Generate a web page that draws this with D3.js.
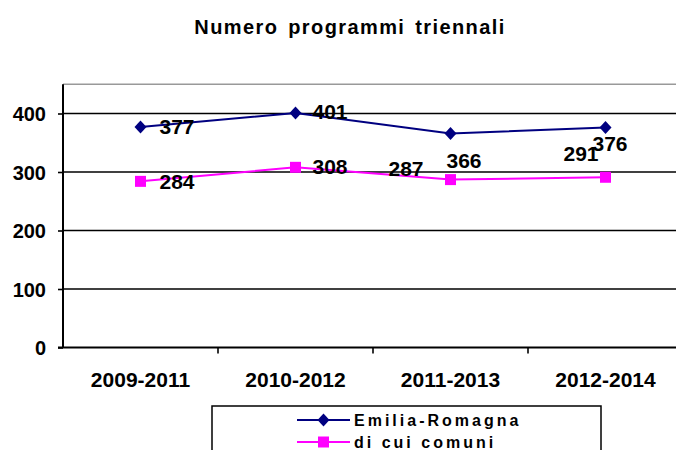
<!DOCTYPE html>
<html>
<head>
<meta charset="utf-8">
<script src="https://cdn.jsdelivr.net/npm/d3@7"></script>
<style>
  html, body { margin: 0; padding: 0; background: #fff; }
  svg { display: block; font-family: "Liberation Sans", Arial, sans-serif; }
</style>
</head>
<body>
<div id="chart"></div>
<script>
// ---- data ----
const title = "Numero programmi triennali";
const categories = ["2009-2011", "2010-2012", "2011-2013", "2012-2014"];
const emiliaRomagna = [377, 401, 366, 376];
const comuni = [284, 308, 287, 291];
const seriesNames = ["Emilia-Romagna", "di cui comuni"];
const yTicks = [0, 100, 200, 300, 400];
const yMax = 450;

// label placement offsets (px) as in the original (manually moved labels)
const erLabelOffsets = [[19, 0], [17, -1], [-4, 27], [-13, 16]];
const coLabelOffsets = [[19, 0], [17, -1], [-62, -11], [-42, -24]];

// ---- layout ----
const W = 676, H = 450;
const plot = { left: 63, right: 683, top: 84.25, bottom: 347.5 };

const svg = d3.select("#chart").append("svg")
  .attr("width", W).attr("height", H);

svg.append("rect").attr("width", W).attr("height", H).attr("fill", "#fff");

const x = d3.scaleBand().domain(categories).range([plot.left, plot.right]);
const y = d3.scaleLinear().domain([0, yMax]).range([plot.bottom, plot.top]);
const cx = c => x(c) + x.bandwidth() / 2;

// title
svg.append("text")
  .attr("x", 350).attr("y", 27)
  .attr("text-anchor", "middle").attr("dominant-baseline", "central")
  .attr("font-size", 20).attr("font-weight", "bold")
  .attr("letter-spacing", "1.4px").attr("word-spacing", "3px")
  .text(title);

// plot area top border
svg.append("line")
  .attr("x1", plot.left).attr("x2", plot.right)
  .attr("y1", y(yMax)).attr("y2", y(yMax))
  .attr("stroke", "#999").attr("stroke-width", 1.5);

// gridlines
svg.append("g").selectAll("line").data(yTicks.filter(d => d > 0)).join("line")
  .attr("x1", plot.left).attr("x2", plot.right)
  .attr("y1", d => y(d)).attr("y2", d => y(d))
  .attr("stroke", "#000").attr("stroke-width", 1.6);

// y axis
const yAxis = d3.axisLeft(y).tickValues(yTicks).tickSize(5).tickPadding(12).tickFormat(d3.format("d"));
const gy = svg.append("g").attr("transform", `translate(${plot.left},0)`).call(yAxis);
gy.select(".domain").attr("stroke", "#000").attr("stroke-width", 2)
  .attr("d", `M0,${y(yMax)}V${plot.bottom}`);
gy.selectAll(".tick line").attr("stroke", "#000").attr("stroke-width", 1.6);
gy.selectAll(".tick text")
  .attr("font-size", 20).attr("font-weight", "bold").attr("fill", "#000")
  .attr("font-family", "'Liberation Sans', Arial, sans-serif")
  .attr("dy", "0.36em");

// x axis
const gx = svg.append("g").attr("transform", `translate(0,${plot.bottom})`);
gx.append("line").attr("x1", plot.left - 5).attr("x2", plot.right)
  .attr("y1", 0).attr("y2", 0).attr("stroke", "#000").attr("stroke-width", 2);
gx.selectAll("line.tk").data(categories.slice(1)).join("line").attr("class", "tk")
  .attr("x1", d => x(d)).attr("x2", d => x(d))
  .attr("y1", 0).attr("y2", 6).attr("stroke", "#000").attr("stroke-width", 1.6);
gx.selectAll("text").data(categories).join("text")
  .attr("x", d => cx(d)).attr("y", 32)
  .attr("text-anchor", "middle").attr("dominant-baseline", "central")
  .attr("font-size", 21).attr("font-weight", "bold")
  .text(d => d);

// lines
const line = d3.line().x((d, i) => cx(categories[i])).y(d => y(d));
const series = [
  { name: seriesNames[0], values: emiliaRomagna, color: "#000080", shape: "diamond", offs: erLabelOffsets },
  { name: seriesNames[1], values: comuni, color: "#FF00FF", shape: "square", offs: coLabelOffsets }
];

function markerPath(shape) {
  const p = d3.path();
  if (shape === "diamond") {
    p.moveTo(0, -6.5); p.lineTo(6, 0); p.lineTo(0, 6.5); p.lineTo(-6, 0); p.closePath();
  } else {
    p.rect(-5.5, -5.5, 11, 11);
  }
  return p.toString();
}
function marker(g, s, px, py) {
  g.append("path").attr("d", markerPath(s.shape))
    .attr("transform", `translate(${px},${py})`).attr("fill", s.color);
}

// draw comuni first then Emilia-Romagna
[series[1], series[0]].forEach(s => {
  svg.append("path").datum(s.values).attr("d", line)
    .attr("fill", "none").attr("stroke", s.color).attr("stroke-width", 2);
  const g = svg.append("g");
  s.values.forEach((v, i) => marker(g, s, cx(categories[i]), y(v)));
});

// data labels
series.forEach(s => {
  svg.append("g").selectAll("text").data(s.values).join("text")
    .attr("x", (d, i) => cx(categories[i]) + s.offs[i][0])
    .attr("y", (d, i) => y(d) + s.offs[i][1])
    .attr("dominant-baseline", "central")
    .attr("font-size", 21).attr("font-weight", "bold").attr("fill", "#000")
    .text(d => d);
});

// legend
const lg = svg.append("g");
lg.append("rect").attr("x", 212).attr("y", 406).attr("width", 389).attr("height", 80)
  .attr("fill", "#fff").attr("stroke", "#000").attr("stroke-width", 1.5);
series.forEach((s, i) => {
  const ly = 420 + i * 22;
  lg.append("line").attr("x1", 297).attr("x2", 350).attr("y1", ly).attr("y2", ly)
    .attr("stroke", s.color).attr("stroke-width", 2);
  marker(lg, s, 323.5, ly);
  lg.append("text").attr("x", 354).attr("y", ly)
    .attr("dominant-baseline", "central")
    .attr("font-size", 16).attr("font-weight", "bold").attr("letter-spacing", "3px")
    .text(s.name);
});
</script>
</body>
</html>
